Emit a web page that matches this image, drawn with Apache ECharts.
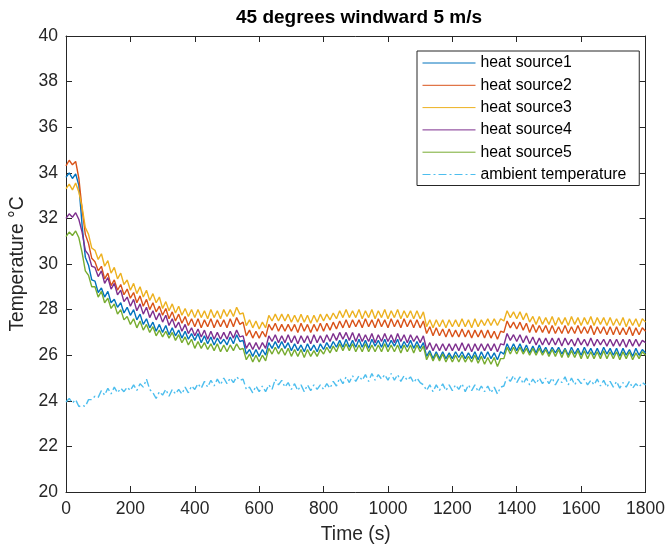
<!DOCTYPE html>
<html>
<head>
<meta charset="utf-8">
<script src="https://cdn.jsdelivr.net/npm/echarts@6/dist/echarts.min.js"></script>
<style>
html,body{margin:0;padding:0;background:#fff;}
#chart{width:668px;height:549px;}
</style>
</head>
<body>
<div id="chart"></div>
<script>
// Sampling grid: one reading every 10 s from 0 to 1800 s
var SAMPLE_STEP_S = 10;

var titleText = '45 degrees windward 5 m/s';
var xName = 'Time (s)';
var yName = 'Temperature \u00B0C';
var seriesNames = ['heat source1','heat source2','heat source3','heat source4','heat source5','ambient temperature'];

var heatSource1 = [
33.8,34.0,33.75,33.95,33.45,31.7,30.3,29.95,29.3,29.25,
28.75,28.95,28.55,28.8,28.3,28.45,28.1,28.3,27.85,28.1,
27.75,28.0,27.55,27.8,27.35,27.6,27.2,27.45,27.05,27.35,
27.0,27.3,26.9,27.2,26.85,27.1,26.75,27.05,26.7,26.95,
26.65,26.95,26.55,26.85,26.5,26.8,26.45,26.75,26.5,26.7,
26.45,26.8,26.5,26.9,26.6,26.65,26.05,26.25,25.95,26.25,
25.95,26.25,26.0,26.55,26.3,26.6,26.3,26.6,26.3,26.55,
26.2,26.5,26.2,26.45,26.15,26.5,26.2,26.45,26.15,26.5,
26.25,26.55,26.3,26.6,26.35,26.65,26.35,26.7,26.35,26.65,
26.35,26.7,26.35,26.65,26.3,26.7,26.4,26.65,26.35,26.7,
26.35,26.65,26.4,26.7,26.3,26.6,26.35,26.65,26.3,26.6,
26.3,26.55,25.95,26.2,25.85,26.15,25.85,26.15,25.85,26.1,
25.85,26.15,25.9,26.15,25.85,26.1,25.85,26.15,25.8,26.15,
25.85,26.15,25.85,26.1,25.8,26.15,26.05,26.5,26.2,26.5,
26.2,26.5,26.15,26.45,26.1,26.4,26.1,26.45,26.1,26.35,
26.05,26.35,26.1,26.35,26.05,26.3,26.0,26.35,26.05,26.3,
26.0,26.35,26.05,26.3,26.0,26.3,26.0,26.35,26.05,26.3,
26.0,26.3,25.95,26.3,26.0,26.25,25.95,26.3,26.0,26.25,
26.1];

var heatSource2 = [
34.3,34.55,34.35,34.5,33.75,32.4,31.3,30.9,30.25,30.1,
29.7,29.9,29.35,29.6,29.05,29.3,28.85,29.1,28.65,28.9,
28.5,28.75,28.3,28.6,28.15,28.45,28.0,28.3,27.9,28.15,
27.75,28.05,27.6,27.9,27.5,27.8,27.4,27.7,27.3,27.6,
27.25,27.6,27.2,27.55,27.25,27.6,27.2,27.55,27.25,27.55,
27.2,27.6,27.25,27.65,27.35,27.45,26.85,27.1,26.75,27.05,
26.75,27.05,26.8,27.35,27.1,27.4,27.05,27.35,27.05,27.35,
27.05,27.35,27.0,27.4,27.05,27.35,27.0,27.35,27.05,27.4,
27.05,27.4,27.1,27.45,27.15,27.5,27.2,27.55,27.2,27.55,
27.25,27.55,27.2,27.6,27.25,27.55,27.2,27.6,27.25,27.55,
27.2,27.6,27.25,27.55,27.2,27.6,27.25,27.55,27.2,27.55,
27.2,27.5,26.95,27.25,26.85,27.2,26.85,27.15,26.8,27.15,
26.8,27.1,26.8,27.15,26.8,27.1,26.75,27.1,26.8,27.1,
26.75,27.1,26.75,27.05,26.7,27.05,27.0,27.5,27.2,27.45,
27.15,27.45,27.1,27.4,27.0,27.35,27.0,27.3,27.0,27.3,
26.95,27.3,26.95,27.25,26.95,27.3,26.95,27.25,26.95,27.3,
26.95,27.25,26.95,27.3,26.9,27.25,26.95,27.25,26.9,27.25,
26.9,27.25,26.9,27.2,26.9,27.25,26.85,27.2,26.9,27.2,
27.05];

var heatSource3 = [
33.3,33.5,33.25,33.55,33.15,32.5,31.6,31.3,30.7,30.6,
30.2,30.45,29.9,30.15,29.6,29.85,29.35,29.6,29.1,29.3,
28.85,29.15,28.7,29.0,28.55,28.85,28.4,28.7,28.3,28.55,
28.05,28.35,27.95,28.25,27.85,28.15,27.75,28.05,27.7,28.0,
27.65,28.0,27.65,27.95,27.6,28.0,27.65,27.95,27.6,28.0,
27.7,28.0,27.7,28.1,27.8,27.85,27.3,27.55,27.2,27.5,
27.15,27.45,27.2,27.75,27.5,27.8,27.5,27.8,27.5,27.8,
27.45,27.75,27.45,27.8,27.45,27.75,27.4,27.75,27.45,27.8,
27.5,27.8,27.55,27.85,27.6,27.95,27.65,28.0,27.65,27.95,
27.65,28.0,27.6,27.95,27.65,28.0,27.6,27.95,27.65,28.0,
27.6,27.95,27.65,28.0,27.6,27.95,27.65,27.95,27.6,27.95,
27.6,27.9,27.25,27.55,27.2,27.55,27.25,27.55,27.2,27.55,
27.25,27.55,27.25,27.6,27.25,27.55,27.2,27.6,27.25,27.55,
27.3,27.6,27.3,27.6,27.3,27.6,27.5,27.95,27.65,27.9,
27.6,27.9,27.55,27.85,27.45,27.7,27.35,27.7,27.35,27.65,
27.35,27.7,27.3,27.65,27.35,27.65,27.3,27.7,27.35,27.65,
27.3,27.65,27.35,27.7,27.3,27.65,27.35,27.65,27.3,27.65,
27.3,27.6,27.3,27.65,27.25,27.6,27.3,27.6,27.25,27.6,
27.45];

var heatSource4 = [
32.0,32.2,32.05,32.25,31.95,31.4,30.6,30.4,29.9,29.85,
29.45,29.7,29.15,29.4,28.9,29.15,28.65,28.85,28.35,28.55,
28.15,28.45,27.95,28.25,27.8,28.1,27.65,27.95,27.55,27.85,
27.45,27.75,27.3,27.6,27.2,27.45,27.05,27.35,26.95,27.2,
26.85,27.15,26.8,27.1,26.7,27.05,26.7,27.0,26.7,27.0,
26.7,27.05,26.75,27.1,26.8,26.85,26.3,26.55,26.25,26.55,
26.25,26.55,26.3,26.85,26.6,26.9,26.55,26.85,26.55,26.9,
26.55,26.85,26.5,26.85,26.55,26.85,26.5,26.9,26.55,26.85,
26.55,26.9,26.6,26.95,26.65,27.0,26.7,27.0,26.65,27.0,
26.6,26.95,26.6,26.9,26.6,26.95,26.55,26.9,26.6,26.95,
26.6,26.9,26.55,26.95,26.6,26.9,26.55,26.9,26.6,26.85,
26.55,26.85,26.25,26.55,26.2,26.5,26.2,26.5,26.2,26.5,
26.2,26.5,26.2,26.55,26.2,26.5,26.15,26.5,26.2,26.5,
26.2,26.5,26.2,26.5,26.15,26.5,26.45,26.95,26.65,26.9,
26.6,26.9,26.55,26.85,26.5,26.8,26.45,26.75,26.45,26.75,
26.45,26.75,26.45,26.75,26.4,26.75,26.45,26.7,26.4,26.75,
26.45,26.7,26.4,26.75,26.4,26.7,26.45,26.7,26.4,26.7,
26.4,26.7,26.4,26.7,26.35,26.7,26.4,26.7,26.4,26.65,
26.55];

var heatSource5 = [
31.2,31.4,31.25,31.45,31.15,30.5,29.7,29.5,29.0,29.0,
28.55,28.8,28.3,28.5,28.05,28.25,27.8,28.0,27.55,27.7,
27.35,27.6,27.2,27.5,27.1,27.35,27.0,27.25,26.85,27.1,
26.8,27.05,26.75,27.0,26.65,26.9,26.55,26.8,26.45,26.7,
26.3,26.6,26.3,26.55,26.25,26.5,26.2,26.5,26.15,26.45,
26.15,26.45,26.2,26.5,26.25,26.3,25.8,26.05,25.7,26.0,
25.7,26.0,25.75,26.3,26.05,26.35,26.05,26.3,26.0,26.3,
25.95,26.25,25.95,26.25,25.9,26.25,25.95,26.2,25.95,26.25,
26.05,26.35,26.1,26.4,26.15,26.5,26.2,26.5,26.2,26.5,
26.15,26.45,26.15,26.5,26.15,26.45,26.15,26.45,26.15,26.5,
26.15,26.45,26.15,26.45,26.1,26.45,26.15,26.45,26.1,26.45,
26.15,26.4,25.8,26.1,25.75,26.05,25.75,26.05,25.7,26.0,
25.7,26.0,25.7,26.0,25.7,25.95,25.7,26.0,25.65,25.95,
25.6,25.9,25.6,25.9,25.5,25.85,25.85,26.35,26.05,26.35,
26.05,26.35,26.05,26.3,26.0,26.3,26.0,26.3,26.0,26.25,
25.95,26.25,25.95,26.25,25.9,26.25,25.9,26.2,25.9,26.2,
25.85,26.2,25.85,26.15,25.85,26.15,25.85,26.2,25.85,26.15,
25.85,26.15,25.8,26.15,25.85,26.15,25.8,26.1,25.85,26.15,
26.0];

var ambientTemperature = [
23.95,24.1,23.9,24.05,23.75,23.8,23.75,24.05,24.05,24.2,
24.15,24.45,24.25,24.55,24.3,24.6,24.35,24.55,24.4,24.6,
24.45,24.7,24.45,24.75,24.6,24.95,24.5,24.35,24.1,24.4,
24.25,24.5,24.2,24.5,24.3,24.5,24.3,24.6,24.35,24.65,
24.5,24.75,24.55,24.85,24.6,24.9,24.65,24.95,24.7,25.0,
24.75,25.0,24.8,25.05,24.9,24.95,24.5,24.6,24.35,24.65,
24.4,24.65,24.4,24.7,24.5,24.95,24.7,24.9,24.6,24.8,
24.5,24.75,24.45,24.7,24.4,24.7,24.45,24.7,24.5,24.7,
24.5,24.75,24.55,24.85,24.65,25.0,24.75,25.05,24.8,25.1,
24.85,25.1,24.9,25.15,24.85,25.2,24.9,25.15,24.95,25.15,
24.9,25.2,24.9,25.15,24.85,25.1,24.9,25.05,24.8,25.0,
24.8,24.7,24.45,24.7,24.4,24.7,24.45,24.75,24.45,24.7,
24.45,24.7,24.5,24.75,24.4,24.7,24.45,24.7,24.4,24.65,
24.4,24.65,24.35,24.6,24.3,24.6,24.65,25.05,24.85,25.1,
24.8,25.05,24.75,25.0,24.7,24.95,24.75,25.0,24.75,25.0,
24.75,25.0,24.7,24.95,24.8,25.05,24.7,25.0,24.7,24.95,
24.75,24.95,24.7,24.9,24.7,24.95,24.65,24.9,24.6,24.85,
24.6,24.85,24.55,24.8,24.6,24.85,24.55,24.75,24.6,24.8,
24.7];

var xTicks = {min: 0, max: 1800, interval: 200};
var yTicks = {min: 20, max: 40, interval: 2};

var colors = ['#0072BD','#D95319','#EDB120','#7E2F8E','#77AC30','#4DBEEE'];
var allData = [heatSource1, heatSource2, heatSource3, heatSource4, heatSource5, ambientTemperature];

function pairs(arr){
  return arr.map(function(v,i){ return [i*SAMPLE_STEP_S, v]; });
}

var FONT = '"Liberation Sans", Arial, Helvetica, sans-serif';
var AX = '#262626';

var series = allData.map(function(arr, k){
  return {
    name: seriesNames[k],
    type: 'line',
    data: pairs(arr),
    symbol: 'none',
    showSymbol: false,
    animation: false,
    lineStyle: {color: colors[k], width: 1.4, type: k === 5 ? [8,3,2,3] : 'solid'},
    itemStyle: {color: colors[k]},
    xAxisIndex: 0, yAxisIndex: 0
  };
});

var chart = echarts.init(document.getElementById('chart'), null, {renderer: 'canvas'});
chart.setOption({
  animation: false,
  backgroundColor: '#fff',
  color: colors,
  graphic: [{
    type: 'text', x: 359, y: 18,
    style: {text: titleText, font: 'bold 19px ' + FONT, fill: '#000', textAlign: 'center', textVerticalAlign: 'middle'}
  }],
  grid: {left: 66, right: 22, top: 36, bottom: 56, containLabel: false},
  legend: {
    orient: 'vertical',
    left: 417, top: 51,
    data: seriesNames,
    itemWidth: 53, itemHeight: 16, itemGap: 6.3,
    padding: [4, 13, 3, 5],
    backgroundColor: '#fff',
    borderColor: AX, borderWidth: 1,
    itemStyle: {opacity: 0, color: 'rgba(0,0,0,0)', borderWidth: 0},
    lineStyle: {width: 1},
    textStyle: {fontFamily: FONT, fontSize: 15.8, color: '#000', lineHeight: 16}
  },
  xAxis: [{
    type: 'value', min: xTicks.min, max: xTicks.max, interval: xTicks.interval,
    name: xName, nameLocation: 'middle', nameGap: 33,
    nameTextStyle: {fontFamily: FONT, fontSize: 19.3, color: AX},
    axisLine: {show: true, lineStyle: {color: AX, width: 1}},
    axisTick: {show: true, inside: true, length: 6, lineStyle: {color: AX}},
    axisLabel: {fontFamily: FONT, fontSize: 17.5, color: AX, margin: 8, formatter: function(v){ return String(v); }},
    splitLine: {show: false}
  },{
    type: 'value', position: 'top', min: xTicks.min, max: xTicks.max, interval: xTicks.interval,
    axisLine: {show: true, onZero: false, lineStyle: {color: AX, width: 1}},
    axisTick: {show: true, inside: true, length: 6, lineStyle: {color: AX}},
    axisLabel: {show: false}, splitLine: {show: false}
  }],
  yAxis: [{
    type: 'value', min: yTicks.min, max: yTicks.max, interval: yTicks.interval,
    name: yName, nameLocation: 'middle', nameGap: 29,
    nameTextStyle: {fontFamily: FONT, fontSize: 19.3, color: AX},
    axisLine: {show: true, lineStyle: {color: AX, width: 1}},
    axisTick: {show: true, inside: true, length: 6, lineStyle: {color: AX}},
    axisLabel: {fontFamily: FONT, fontSize: 17.5, color: AX, margin: 8},
    splitLine: {show: false}
  },{
    type: 'value', position: 'right', min: yTicks.min, max: yTicks.max, interval: yTicks.interval,
    axisLine: {show: true, onZero: false, lineStyle: {color: AX, width: 1}},
    axisTick: {show: true, inside: true, length: 6, lineStyle: {color: AX}},
    axisLabel: {show: false}, splitLine: {show: false}
  }],
  series: series
});
</script>
</body>
</html>
